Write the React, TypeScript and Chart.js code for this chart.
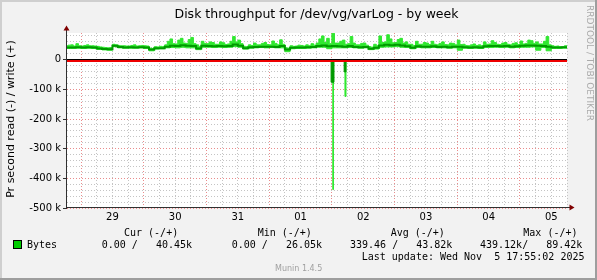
import React, { useEffect, useRef } from 'react';
import { Chart, registerables } from 'chart.js';

Chart.register(...registerables);

const W = 597;
const H = 280;

const TITLE = 'Disk throughput for /dev/vg/varLog - by week';
const Y_TITLE = 'Pr second read (-) / write (+)';
const WATERMARK = 'RRDTOOL / TOBI OETIKER';
const VERSION = 'Munin 1.4.5';
const LAST_UPDATE = 'Last update: Wed Nov  5 17:55:02 2025';

// x axis: hours since Oct 28 00:00
const X_MIN_HOUR = 18.6;
const X_MAX_HOUR = 210;
const X_DAY_LABELS = ['29', '30', '31', '01', '02', '03', '04', '05'];
const X_FIRST_LABEL_HOUR = 36; // Oct 29 12:00

// y axis
const Y_MIN = -500000;
const Y_MAX = 90000;

// write (+) average and minimum, one value every 2 h from hour 18, in k bytes/s
const WRITE_START_HOUR = 18;
const WRITE_STEP_HOURS = 2;
const writeAvgK = [
  41, 41, 42, 41, 42, 41, 38, 36, 35, 47,
  43, 41, 42, 41, 42, 41, 34, 39, 39, 44,
  47, 46, 49, 47, 46, 38, 47, 46, 45, 46,
  45, 46, 51, 47, 39, 42, 43, 44, 44, 44,
  43, 46, 34, 40, 41, 41, 42, 43, 46, 48,
  45, 46, 45, 44, 46, 43, 42, 43, 37, 40,
  48, 50, 49, 50, 48, 45, 40, 45, 44, 44,
  45, 43, 44, 42, 44, 44, 42, 41, 42, 41,
  45, 46, 46, 45, 46, 44, 45, 47, 48, 48,
  47, 46, 44, 41, 41, 42, 40,
];
const writeMinK = [
  38, 38, 39, 38, 39, 38, 35, 33, 32, 44,
  40, 39, 39, 39, 40, 38, 30, 36, 37, 40,
  41, 40, 42, 40, 40, 34, 42, 42, 41, 42,
  41, 42, 44, 42, 36, 39, 40, 41, 40, 41,
  40, 40, 27, 37, 38, 38, 39, 40, 42, 42,
  37, 40, 40, 40, 41, 40, 39, 40, 34, 36,
  42, 43, 43, 44, 42, 41, 37, 41, 40, 40,
  41, 40, 40, 39, 40, 32, 39, 38, 39, 38,
  41, 41, 42, 41, 42, 40, 41, 42, 42, 43,
  32, 41, 30, 38, 38, 39, 38,
];
// write (+) maximum, one value every hour from hour 18, in k bytes/s
const MAX_START_HOUR = 18;
const MAX_STEP_HOURS = 1;
const writeMaxK = [
  47, 49, 50, 46, 54, 47, 46, 48, 50, 47, 47, 46, 45, 43, 42, 41, 40, 41, 52, 50,
  48, 47, 47, 46, 46, 48, 50, 46, 47, 48, 47, 46, 39, 38, 44, 43, 45, 44, 50, 62,
  70, 54, 53, 66, 72, 56, 55, 68, 75, 54, 50, 44, 62, 55, 54, 60, 58, 52, 52, 60,
  57, 51, 53, 62, 78, 60, 66, 54, 45, 44, 50, 48, 56, 50, 50, 55, 58, 51, 50, 63,
  55, 50, 67, 52, 40, 39, 47, 45, 46, 49, 48, 46, 50, 47, 54, 49, 56, 70, 80, 58,
  72, 54, 89, 56, 56, 62, 66, 52, 54, 78, 56, 50, 50, 55, 56, 49, 44, 42, 52, 47,
  80, 58, 60, 84, 70, 57, 58, 68, 72, 56, 60, 52, 52, 47, 62, 52, 52, 58, 56, 51,
  62, 52, 50, 55, 60, 51, 50, 56, 55, 50, 66, 51, 52, 48, 47, 50, 53, 48, 50, 47,
  60, 52, 53, 64, 58, 52, 51, 56, 58, 52, 50, 55, 57, 51, 63, 53, 55, 66, 64, 55,
  60, 53, 53, 62, 78, 50, 47, 45, 46, 44, 44, 47, 45,
];

// read (-) series: change points (hour) and values in k bytes/s
const readAvgHours = [18, 119.3, 119.7, 120.8, 124.7, 125.4, 210];
const readAvgK = [0, -4, -76, 0, -41, 0, 0];
const readMaxHours = [18, 120.35, 120.6, 125.0, 125.4, 210];
const readMaxK = [0, -438, 0, -124, 0, 0];

// legend
const LEGEND_NAME = 'Bytes';
const legendHeaders = ['Cur (-/+)', 'Min (-/+)', 'Avg (-/+)', 'Max (-/+)'];
const legendValues = ['0.00 /   40.45k', '0.00 /   26.05k', '339.46 /   43.82k', '439.12k/   89.42k'];

const DARK = '#009a00';
const LIGHT = '#30e830';
const MINOR_GRID = '#c4c4c4';
const MAJOR_GRID = '#ea8c8c';
const SANS = '"DejaVu Sans", sans-serif';
const MONO = '"DejaVu Sans Mono", monospace';

const decorPlugin = {
  id: 'muninDecor',
  beforeDraw(chart: any) {
    const { ctx, chartArea: a } = chart;
    ctx.save();
    ctx.fillStyle = '#f2f2f2';
    ctx.fillRect(0, 0, W, H);
    ctx.fillStyle = '#cfcfcf';
    ctx.fillRect(0, 0, W, 2);
    ctx.fillRect(0, 0, 2, H);
    ctx.fillStyle = '#9e9e9e';
    ctx.fillRect(0, H - 2, W, 2);
    ctx.fillRect(W - 2, 0, 2, H);
    ctx.fillStyle = '#ffffff';
    ctx.fillRect(a.left, a.top, a.right - a.left, a.bottom - a.top);
    ctx.restore();
  },
  afterDatasetsDraw(chart: any) {
    const { ctx, chartArea: a } = chart;
    const y0 = Math.round(chart.scales.y.getPixelForValue(0));
    ctx.save();
    ctx.fillStyle = '#000000';
    ctx.fillRect(a.left, y0 - 1, a.right - a.left, 1);
    ctx.fillStyle = '#ee0000';
    ctx.fillRect(a.left, y0, a.right - a.left, 2);
    ctx.restore();
  },
  afterDraw(chart: any) {
    const { ctx, chartArea: a } = chart;
    const left = Math.round(a.left);
    const bottom = Math.round(a.bottom);
    ctx.save();
    // axes
    ctx.fillStyle = '#303030';
    ctx.fillRect(left - 1, a.top - 4, 1, bottom - a.top + 5);
    ctx.fillRect(left - 1, bottom - 1, a.right - left + 5, 1);
    // arrows
    ctx.fillStyle = '#800000';
    ctx.beginPath();
    ctx.moveTo(left - 0.5, a.top - 7.5);
    ctx.lineTo(left + 2.5, a.top - 2.5);
    ctx.lineTo(left - 3.5, a.top - 2.5);
    ctx.closePath();
    ctx.fill();
    ctx.beginPath();
    ctx.moveTo(a.right + 7.5, bottom - 0.5);
    ctx.lineTo(a.right + 2.5, bottom - 3.5);
    ctx.lineTo(a.right + 2.5, bottom + 2.5);
    ctx.closePath();
    ctx.fill();

    // title
    ctx.fillStyle = '#000000';
    ctx.font = `12.5px ${SANS}`;
    ctx.textAlign = 'center';
    ctx.textBaseline = 'alphabetic';
    ctx.fillText(TITLE, 316.5, 18.3);

    // y title
    ctx.save();
    ctx.translate(11, 119);
    ctx.rotate(-Math.PI / 2);
    ctx.font = `11px ${SANS}`;
    ctx.textAlign = 'center';
    ctx.textBaseline = 'middle';
    ctx.fillText(Y_TITLE, 0, 0);
    ctx.restore();

    // watermark
    ctx.save();
    ctx.translate(589, 5);
    ctx.rotate(Math.PI / 2);
    ctx.font = `9px ${SANS}`;
    ctx.fillStyle = '#aaaaaa';
    ctx.textAlign = 'left';
    ctx.textBaseline = 'middle';
    ctx.fillText(WATERMARK, 0, 0);
    ctx.restore();

    // legend
    ctx.font = `10px ${MONO}`;
    ctx.textAlign = 'left';
    ctx.textBaseline = 'middle';
    ctx.fillStyle = '#000000';
    const headerX = [124, 257.7, 390.7, 523.3];
    const valueX = [101.7, 231.7, 350, 480];
    legendHeaders.forEach((t, i) => ctx.fillText(t, headerX[i], 233));
    legendValues.forEach((t, i) => ctx.fillText(t, valueX[i], 245));
    ctx.fillText(LEGEND_NAME, 27, 245);
    ctx.fillText(LAST_UPDATE, 361.7, 257);
    ctx.fillStyle = '#00cc00';
    ctx.fillRect(13, 240, 9, 9);
    ctx.strokeStyle = '#000000';
    ctx.lineWidth = 1;
    ctx.strokeRect(13.5, 240.5, 8, 8);

    ctx.font = `8px ${SANS}`;
    ctx.fillStyle = '#a0a0a0';
    ctx.fillText(VERSION, 275, 269);
    ctx.restore();
  },
};

export default function App() {
  const ref = useRef<HTMLCanvasElement | null>(null);

  useEffect(() => {
    const canvas = ref.current;
    if (!canvas) return;
    const evenPts = (start: number, step: number, vals: number[]) =>
      vals.map((v, i) => ({ x: start + i * step, y: v * 1000 }));
    const atPts = (hours: number[], vals: number[]) =>
      vals.map((v, i) => ({ x: hours[i], y: v * 1000 }));

    const chart = new Chart(canvas, {
      type: 'line',
      data: {
        datasets: [
          {
            label: 'write avg',
            data: evenPts(WRITE_START_HOUR, WRITE_STEP_HOURS, writeAvgK),
            borderColor: DARK,
            borderWidth: 2,
            stepped: true,
            fill: false,
            pointRadius: 0,
          },
          {
            label: 'read avg',
            data: atPts(readAvgHours, readAvgK),
            borderColor: DARK,
            backgroundColor: DARK,
            borderWidth: 1,
            stepped: true,
            fill: 'origin',
            pointRadius: 0,
          },
          {
            label: 'write max',
            data: evenPts(MAX_START_HOUR, MAX_STEP_HOURS, writeMaxK),
            borderColor: LIGHT,
            backgroundColor: LIGHT,
            borderWidth: 1,
            stepped: true,
            fill: '+1',
            pointRadius: 0,
          },
          {
            label: 'write min',
            data: evenPts(WRITE_START_HOUR, WRITE_STEP_HOURS, writeMinK),
            borderColor: LIGHT,
            borderWidth: 1,
            stepped: true,
            fill: false,
            pointRadius: 0,
          },
          {
            label: 'read max',
            data: atPts(readMaxHours, readMaxK),
            borderColor: LIGHT,
            backgroundColor: LIGHT,
            borderWidth: 1,
            stepped: true,
            fill: 'origin',
            pointRadius: 0,
          },
        ],
      },
      options: {
        animation: false,
        responsive: false,
        devicePixelRatio: 1,
        events: [],
        layout: { padding: { left: 20, right: 30, top: 33, bottom: 42 } },
        plugins: {
          legend: { display: false },
          tooltip: { enabled: false },
          title: { display: false },
        },
        elements: { point: { radius: 0 } },
        scales: {
          x: {
            type: 'linear',
            min: X_MIN_HOUR,
            max: X_MAX_HOUR,
            afterBuildTicks: (s: any) => {
              const t: any[] = [];
              for (let h = 24; h <= X_MAX_HOUR; h += 6) t.push({ value: h });
              s.ticks = t;
            },
            afterFit: (s: any) => {
              s.height = 30;
            },
            ticks: {
              autoSkip: false,
              maxRotation: 0,
              minRotation: 0,
              padding: 3,
              color: '#000000',
              font: { family: 'DejaVu Sans', size: 10 },
              callback: (v: any) => {
                const n = Number(v);
                if (n % 24 !== 12) return '';
                const idx = (n - X_FIRST_LABEL_HOUR) / 24;
                return X_DAY_LABELS[idx] ?? '';
              },
            },
            grid: {
              drawTicks: false,
              lineWidth: 1,
              color: (c: any) => (c.tick && c.tick.value % 24 === 0 ? MAJOR_GRID : MINOR_GRID),
            },
            border: { display: false, dash: [1, 2] },
          },
          y: {
            type: 'linear',
            min: Y_MIN,
            max: Y_MAX,
            afterBuildTicks: (s: any) => {
              const t: any[] = [];
              for (let v = Y_MIN; v <= 80000; v += 20000) t.push({ value: v });
              s.ticks = t;
            },
            afterFit: (s: any) => {
              s.width = 47;
            },
            ticks: {
              autoSkip: false,
              padding: 2,
              color: '#000000',
              font: { family: 'DejaVu Sans', size: 10 },
              callback: (v: any) => {
                const n = Number(v);
                if (n === 0) return '0';
                if (n % 100000 !== 0) return '';
                return `${n / 1000} k`;
              },
            },
            grid: {
              drawTicks: true,
              tickLength: 4,
              lineWidth: 1,
              color: (c: any) =>
                c.tick && c.tick.value % 100000 === 0 ? MAJOR_GRID : MINOR_GRID,
              tickColor: (c: any) =>
                c.tick && c.tick.value % 100000 === 0 ? '#303030' : 'rgba(0,0,0,0)',
            },
            border: { display: false, dash: [1, 2] },
          },
        },
      },
      plugins: [decorPlugin],
    } as any);

    return () => chart.destroy();
  }, []);

  return (
    <div style={{ position: 'absolute', left: 0, top: 0, width: W, height: H }}>
      <canvas ref={ref} width={W} height={H} style={{ display: 'block', width: W, height: H }} />
    </div>
  );
}
